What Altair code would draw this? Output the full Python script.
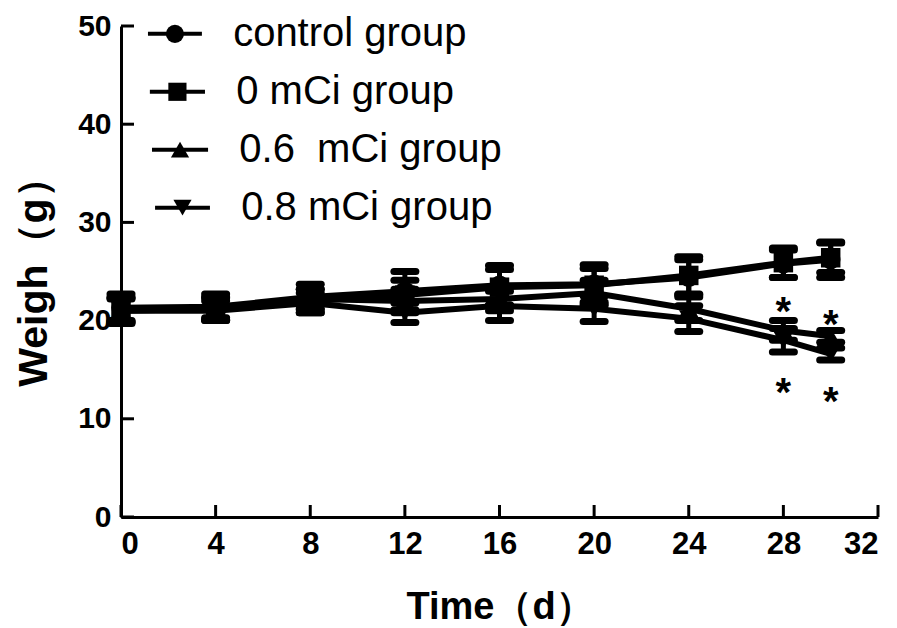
import altair as alt
import pandas as pd

# ---------------- data ----------------
days = [0, 4, 8, 12, 16, 20, 24, 28, 30]
groups = ["control group", "0 mCi group", "0.6\u00a0 mCi group", "0.8 mCi group"]
shapes = ["circle", "square", "triangle-up", "triangle-down"]

control = [21.3, 21.4, 22.4, 23.0, 23.6, 23.7, 24.4, 25.8, 26.2]
mci_0 = [21.0, 21.2, 22.0, 22.6, 23.4, 23.6, 24.6, 25.9, 26.4]
mci_06 = [21.2, 21.3, 22.2, 22.0, 22.2, 22.8, 21.2, 19.0, 18.4]
mci_08 = [21.0, 21.0, 21.8, 20.8, 21.5, 21.2, 20.2, 18.0, 16.6]

err_control = [1.4, 1.3, 1.3, 2.0, 2.0, 2.0, 1.8, 1.4, 1.8]
err_0 = [1.3, 1.2, 1.2, 1.5, 1.8, 1.7, 1.9, 1.5, 1.5]
err_06 = [1.2, 1.0, 1.0, 1.2, 1.2, 1.3, 1.2, 1.0, 0.6]
err_08 = [1.2, 1.0, 1.0, 1.0, 1.5, 1.3, 1.3, 1.2, 0.6]

star_day = [28, 28, 30, 30]
star_w = [21.6, 13.3, 20.3, 12.4]

x_ticks = [0, 4, 8, 12, 16, 20, 24, 28, 32]
y_ticks = [0, 10, 20, 30, 40, 50]

# ---------------- tables ----------------
rows = []
for g, vals, errs in zip(groups, [control, mci_0, mci_06, mci_08],
                         [err_control, err_0, err_06, err_08]):
    for d, v, e in zip(days, vals, errs):
        rows.append(dict(group=g, day=d, w=v, lo=v - e, hi=v + e))
df = pd.DataFrame(rows)

stars = pd.DataFrame({"day": star_day, "w": star_w, "t": ["*"] * len(star_day)})

# legend layout (in data units)
leg_y = [49.2, 43.3, 37.4, 31.5]
leg_x1 = [1.14, 1.22, 1.31, 1.44]
leg_x2 = [3.42, 3.55, 3.68, 3.76]
leg = pd.DataFrame({
    "group": groups, "w": leg_y, "x1": leg_x1, "x2": leg_x2,
    "xm": [(a + b) / 2 for a, b in zip(leg_x1, leg_x2)],
    "xt": [a + 1.32 for a in leg_x2],
})

W, H = 757, 491
FONT = "Liberation Sans"

xs = alt.Scale(domain=[0, 32], nice=False, zero=False)
ys = alt.Scale(domain=[0, 50], nice=False)
shape_scale = alt.Scale(domain=groups, range=shapes)

x_axis = alt.Axis(values=x_ticks, title="Time（d）", tickSize=0, labelPadding=12,
                  titlePadding=29, grid=False, labelFontSize=31, titleFontSize=38,
                  labelFont=FONT, labelFontWeight="bold", labelColor="black",
                  titleFont=FONT, titleFontWeight="bold", titleColor="black",
                  domainColor="black", domainWidth=3)
y_axis = alt.Axis(values=y_ticks, title="Weigh（g）", tickSize=0, labelPadding=10,
                  titlePadding=22, grid=False, labelFontSize=30, titleFontSize=41,
                  labelFont=FONT, labelFontWeight="bold", labelColor="black",
                  titleFont=FONT, titleFontWeight="bold", titleColor="black",
                  domainColor="black", domainWidth=3)


def XF(field):
    return alt.X(field, type="quantitative", scale=xs, axis=x_axis)


def YF(field):
    return alt.Y(field, type="quantitative", scale=ys, axis=y_axis)


lines = alt.Chart(df).mark_line(color="black", strokeWidth=6).encode(
    x=XF("day"), y=YF("w"), detail="group:N")

bars = alt.Chart(df).mark_rule(color="black", strokeWidth=5).encode(
    x=XF("day"), y=YF("lo"), y2="hi:Q")

caps_hi = alt.Chart(df).mark_rule(color="black", strokeWidth=7, strokeCap="round",
                                  xOffset=-11, x2Offset=11).encode(
    x=XF("day"), x2="day:Q", y=YF("hi"))
caps_lo = alt.Chart(df).mark_rule(color="black", strokeWidth=7, strokeCap="round",
                                  xOffset=-11, x2Offset=11).encode(
    x=XF("day"), x2="day:Q", y=YF("lo"))

points = alt.Chart(df).mark_point(filled=True, color="black", size=380, opacity=1).encode(
    x=XF("day"), y=YF("w"),
    shape=alt.Shape("group:N", scale=shape_scale, legend=None))

star_marks = alt.Chart(stars).mark_text(font=FONT, fontSize=40, fontWeight="bold",
                                        baseline="middle", dy=8, color="black").encode(
    x=XF("day"), y=YF("w"), text="t:N")

x_tick_marks = alt.Chart(pd.DataFrame({"day": x_ticks})).mark_rule(
    color="black", strokeWidth=3).encode(x=XF("day"), y=alt.value(H), y2=alt.value(H - 12))
y_tick_marks = alt.Chart(pd.DataFrame({"w": y_ticks})).mark_rule(
    color="black", strokeWidth=3).encode(y=YF("w"), x=alt.value(0), x2=alt.value(13))

leg_lines = alt.Chart(leg).mark_rule(color="black", strokeWidth=4).encode(
    x=XF("x1"), x2="x2:Q", y=YF("w"))
leg_pts = alt.Chart(leg).mark_point(filled=True, color="black", size=330, opacity=1).encode(
    x=XF("xm"), y=YF("w"),
    shape=alt.Shape("group:N", scale=shape_scale, legend=None))
leg_txt = alt.Chart(leg).mark_text(font=FONT, fontSize=40, align="left",
                                   baseline="middle", color="black").encode(
    x=XF("xt"), y=YF("w"), text="group:N")

chart = alt.layer(
    lines, bars, caps_hi, caps_lo, points, star_marks,
    x_tick_marks, y_tick_marks, leg_lines, leg_pts, leg_txt
).properties(
    width=W, height=H,
    autosize=alt.AutoSizeParams(type="none"),
    padding={"left": 113, "top": 18, "right": 10, "bottom": 110},
    background="white",
).configure_view(stroke=None)

chart.save("out.html", embed_options={"renderer": "svg", "actions": False})
